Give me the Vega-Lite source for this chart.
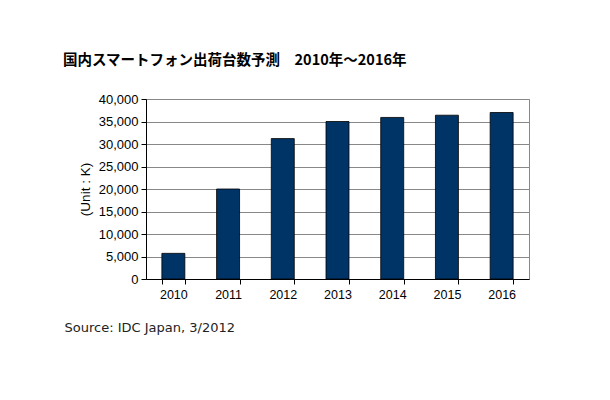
{
  "$schema": "https://vega.github.io/schema/vega-lite/v6.json",
  "autosize": "none",
  "width": 383,
  "height": 180,
  "padding": {"left": 146, "top": 99, "right": 81, "bottom": 121},
  "background": "white",
  "title": {
    "text": "国内スマートフォン出荷台数予測　2010年～2016年",
    "anchor": "start",
    "frame": "group",
    "dx": -83,
    "offset": 11,
    "baseline": "bottom",
    "font": "Noto Sans CJK JP",
    "fontSize": 14.5,
    "fontWeight": "bold",
    "color": "black"
  },
  "data": {
    "values": [
      {"year": "2010", "units": 5700},
      {"year": "2011", "units": 20000},
      {"year": "2012", "units": 31200},
      {"year": "2013", "units": 35000},
      {"year": "2014", "units": 35900},
      {"year": "2015", "units": 36400},
      {"year": "2016", "units": 37000}
    ]
  },
  "mark": {"type": "bar", "color": "#003366", "stroke": "black", "strokeWidth": 0.8},
  "encoding": {
    "x": {
      "field": "year",
      "type": "nominal",
      "scale": {"paddingInner": 0.58, "paddingOuter": 0.29},
      "axis": {
        "title": "Source: IDC Japan, 3/2012",
        "titleX": -82,
        "titleY": 48,
        "titleAlign": "left",
        "titleBaseline": "middle",
        "titleFont": "DejaVu Sans",
        "titleFontSize": 13,
        "titleFontWeight": "normal",
        "titleColor": "#222",
        "labelAngle": 0,
        "labelFont": "Liberation Sans",
        "labelFontSize": 12.5,
        "labelColor": "black",
        "labelPadding": 4,
        "tickBand": "extent",
        "tickSize": 5,
        "tickColor": "black",
        "domainColor": "black",
        "grid": false
      }
    },
    "y": {
      "field": "units",
      "type": "quantitative",
      "scale": {"domain": [0, 40000], "nice": false},
      "axis": {
        "title": "(Unit : K)",
        "titleFont": "Liberation Sans",
        "titleFontSize": 13.5,
        "titleFontWeight": "normal",
        "titleColor": "black",
        "titlePadding": 6,
        "values": [0, 5000, 10000, 15000, 20000, 25000, 30000, 35000, 40000],
        "format": ",d",
        "labelFont": "Liberation Sans",
        "labelFontSize": 13,
        "labelColor": "black",
        "labelPadding": 3,
        "tickSize": 5,
        "tickColor": "black",
        "domainColor": "black",
        "gridColor": "#888888",
        "gridOpacity": 1
      }
    }
  },
  "config": {
    "view": {"stroke": "#888888"}
  }
}
